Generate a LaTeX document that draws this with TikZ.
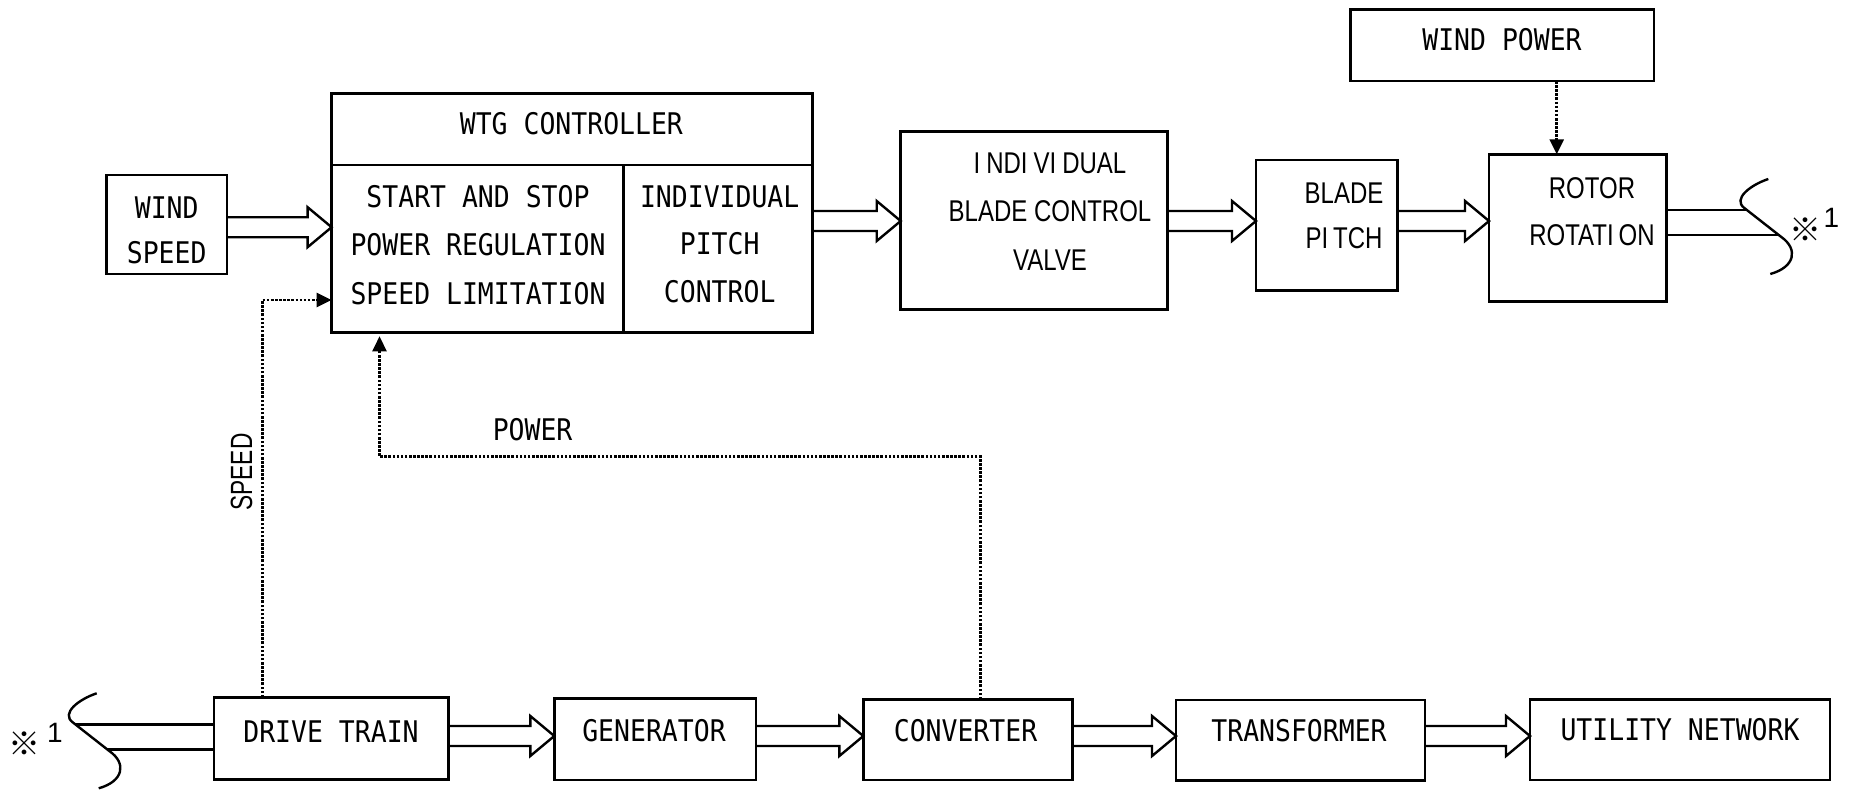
\documentclass[tikz,border=0pt]{standalone}
\usepackage{fontspec}
\usetikzlibrary{calc,arrows.meta}
\newfontfamily\cadfont[FakeStretch=0.888]{DejaVu Sans Mono}
\newfontfamily\squeezefont[FakeStretch=0.8]{Liberation Sans}
\newfontfamily\sidefont[FakeStretch=0.74]{Liberation Sans}
\newfontfamily\markfont{Noto Sans CJK JP}
\newfontfamily\digitfont{Liberation Sans}

\tikzset{
  blk/.style={draw, line width=2.8pt, inner sep=0pt, outer sep=0pt},
  lbl/.style={inner sep=0pt, outer sep=0pt, align=center},
  cad/.style={lbl, font=\cadfont\fontsize{29.8}{#1}\selectfont},
  cad/.default=48,
  sq/.style={lbl, font=\squeezefont\fontsize{30}{#1}\selectfont},
  refmark/.style={inner sep=0pt, font=\markfont\fontsize{32}{32}\selectfont},
  refnum/.style={inner sep=0pt, font=\digitfont\fontsize{28}{28}\selectfont},
  shaft/.style={draw, line width=2.4pt, line join=miter},
  hollow/.style={to path={let \p1=(\tikztostart), \p2=(\tikztotarget) in
      (\x1,\y1+10pt) -- (\x2-24pt,\y1+10pt) -- (\x2-24pt,\y1+20pt) -- (\x2,\y1)
      -- (\x2-24pt,\y1-20pt) -- (\x2-24pt,\y1-10pt) -- (\x1,\y1-10pt)}},
  sig/.style={line width=2.6pt, dash pattern=on 2.6pt off 1.5pt,
      -{Triangle[length=15pt,width=14pt]}},
  breakmark/.pic={
    \draw[line width=2.4pt] (0,0) .. controls (-18,6) and (-36,20) .. (-24,29)
      -- (13,58) .. controls (30,70) and (27,88) .. (2,95);
    \coordinate (-top) at (-21.4,31);
    \coordinate (-bot) at (10.4,56);
  }
}

\begin{document}
\begin{tikzpicture}[x=1pt,y=-1pt]
\useasboundingbox (0,0) rectangle (1849,790);

% ---- upper chain: controller, valve, pitch, rotor ----
\node[blk, minimum width=303.3pt, minimum height=71.7pt] (windpower) at (1502.35,45.15) {};
\node[cad] (windpowerT) at (1502,40) {WIND POWER};

\node[blk, minimum width=120.4pt, minimum height=99pt] (windspeed) at (166.7,224.5) {};
\node[cad=45] (windspeedT) at (166.7,230.8) {WIND\\SPEED};

\node[blk, minimum width=481.1pt, minimum height=71.7pt] (ctrlH) at (572.15,129.15) {};
\node[blk, minimum width=291.7pt, minimum height=167.3pt] (ctrlL) at (477.45,248.65) {};
\node[blk, minimum width=189.4pt, minimum height=167.3pt] (ctrlR) at (718,248.65) {};
\node[cad] (ctrlHT) at (571.4,123.3) {WTG CONTROLLER};
\node[cad=48.3] (ctrlLT) at (478,245) {START AND STOP\\POWER REGULATION\\SPEED LIMITATION};
\node[cad=47.5] (ctrlRT) at (719.7,244.2) {INDIVIDUAL\\PITCH\\CONTROL};

\node[blk, minimum width=267pt, minimum height=177.6pt] (valve) at (1034.2,220.5) {};
\node[sq=48.5] (valveT) at (1050,211.5) {I\kern6pt NDI\kern6pt VI\kern6pt DUAL\\BLADE CONTROL\\VALVE};

\node[blk, minimum width=141.3pt, minimum height=130.7pt] (pitch) at (1326.65,225.35) {};
\node[sq=45] (pitchT) at (1344,215.8) {BLADE\\PI\kern5pt TCH};

\node[blk, minimum width=177.7pt, minimum height=147.4pt] (rotor) at (1577.85,228) {};
\node[sq=46.7] (rotorT) at (1592,211.7) {ROTOR\\ROTATI\kern5pt ON};

% ---- lower chain ----
\node[blk, minimum width=234.3pt, minimum height=82pt] (drive) at (331.15,738.3) {};
\node[cad] (driveT) at (331,731.7) {DRIVE TRAIN};
\node[blk, minimum width=201.7pt, minimum height=81.7pt] (gen) at (655.15,739.15) {};
\node[cad] (genT) at (654,731) {GENERATOR};
\node[blk, minimum width=209pt, minimum height=80.7pt] (conv) at (967.8,739.65) {};
\node[cad] (convT) at (965.5,731) {CONVERTER};
\node[blk, minimum width=249pt, minimum height=80.7pt] (trans) at (1300.5,740.35) {};
\node[cad] (transT) at (1299,730.8) {TRANSFORMER};
\node[blk, minimum width=300pt, minimum height=80.7pt] (util) at (1680,739.65) {};
\node[cad] (utilT) at (1680,730) {UTILITY NETWORK};

% ---- mechanical / power flow (hollow arrows) ----
\coordinate (rowA) at (0,227.2);
\coordinate (rowB) at (0,221);
\coordinate (rowC) at (0,736);
\draw[shaft] (windspeed.east |- rowA) to[hollow] (ctrlL.west |- rowA);
\draw[shaft] (ctrlR.east |- rowB) to[hollow] (valve.west |- rowB);
\draw[shaft] (valve.east |- rowB) to[hollow] (pitch.west |- rowB);
\draw[shaft] (pitch.east |- rowB) to[hollow] (rotor.west |- rowB);
\draw[shaft] (drive.east |- rowC) to[hollow] (gen.west |- rowC);
\draw[shaft] (gen.east |- rowC) to[hollow] (conv.west |- rowC);
\draw[shaft] (conv.east |- rowC) to[hollow] (trans.west |- rowC);
\draw[shaft] (trans.east |- rowC) to[hollow] (util.west |- rowC);

% ---- shaft continuation marks ----
\pic (rbreak) at (1768.3,179) {breakmark};
\pic (lbreak) at (96.7,693.3) {breakmark};
\draw[shaft] (rotor.east |- rbreak-top) -- (rbreak-top);
\draw[shaft] (rotor.east |- rbreak-bot) -- (rbreak-bot);
\draw[shaft] (lbreak-top) -- (drive.west |- lbreak-top);
\draw[shaft] (lbreak-bot) -- (drive.west |- lbreak-bot);
\node[refmark] (refmarkR) at (1805.7,230) {※};
\node[refnum] (refnumR) at (1831.5,217.5) {1};
\node[refmark] (refmarkL) at (25,744) {※};
\node[refnum] (refnumL) at (55,733) {1};

% ---- signal lines ----
\coordinate (wpx) at (1556.7,0);
\draw[sig] (windpower.south -| wpx) -- (rotor.north -| wpx);

\coordinate (spd) at (262.3,300);
\draw[sig] (drive.north -| spd) |- (ctrlL.west |- spd);
\node[lbl, font=\sidefont\fontsize{30.7}{30.7}\selectfont, rotate=90] (speedT) at (241.5,472) {SPEED};

\coordinate (pwr) at (379.5,456.7);
\coordinate (pwx) at (980.7,0);
\draw[sig, shorten >=4pt] (conv.north -| pwx) |- (pwr) -- (ctrlL.south -| pwr);
\node[cad] (powerT) at (532.6,429.3) {POWER};
\end{tikzpicture}
\end{document}
